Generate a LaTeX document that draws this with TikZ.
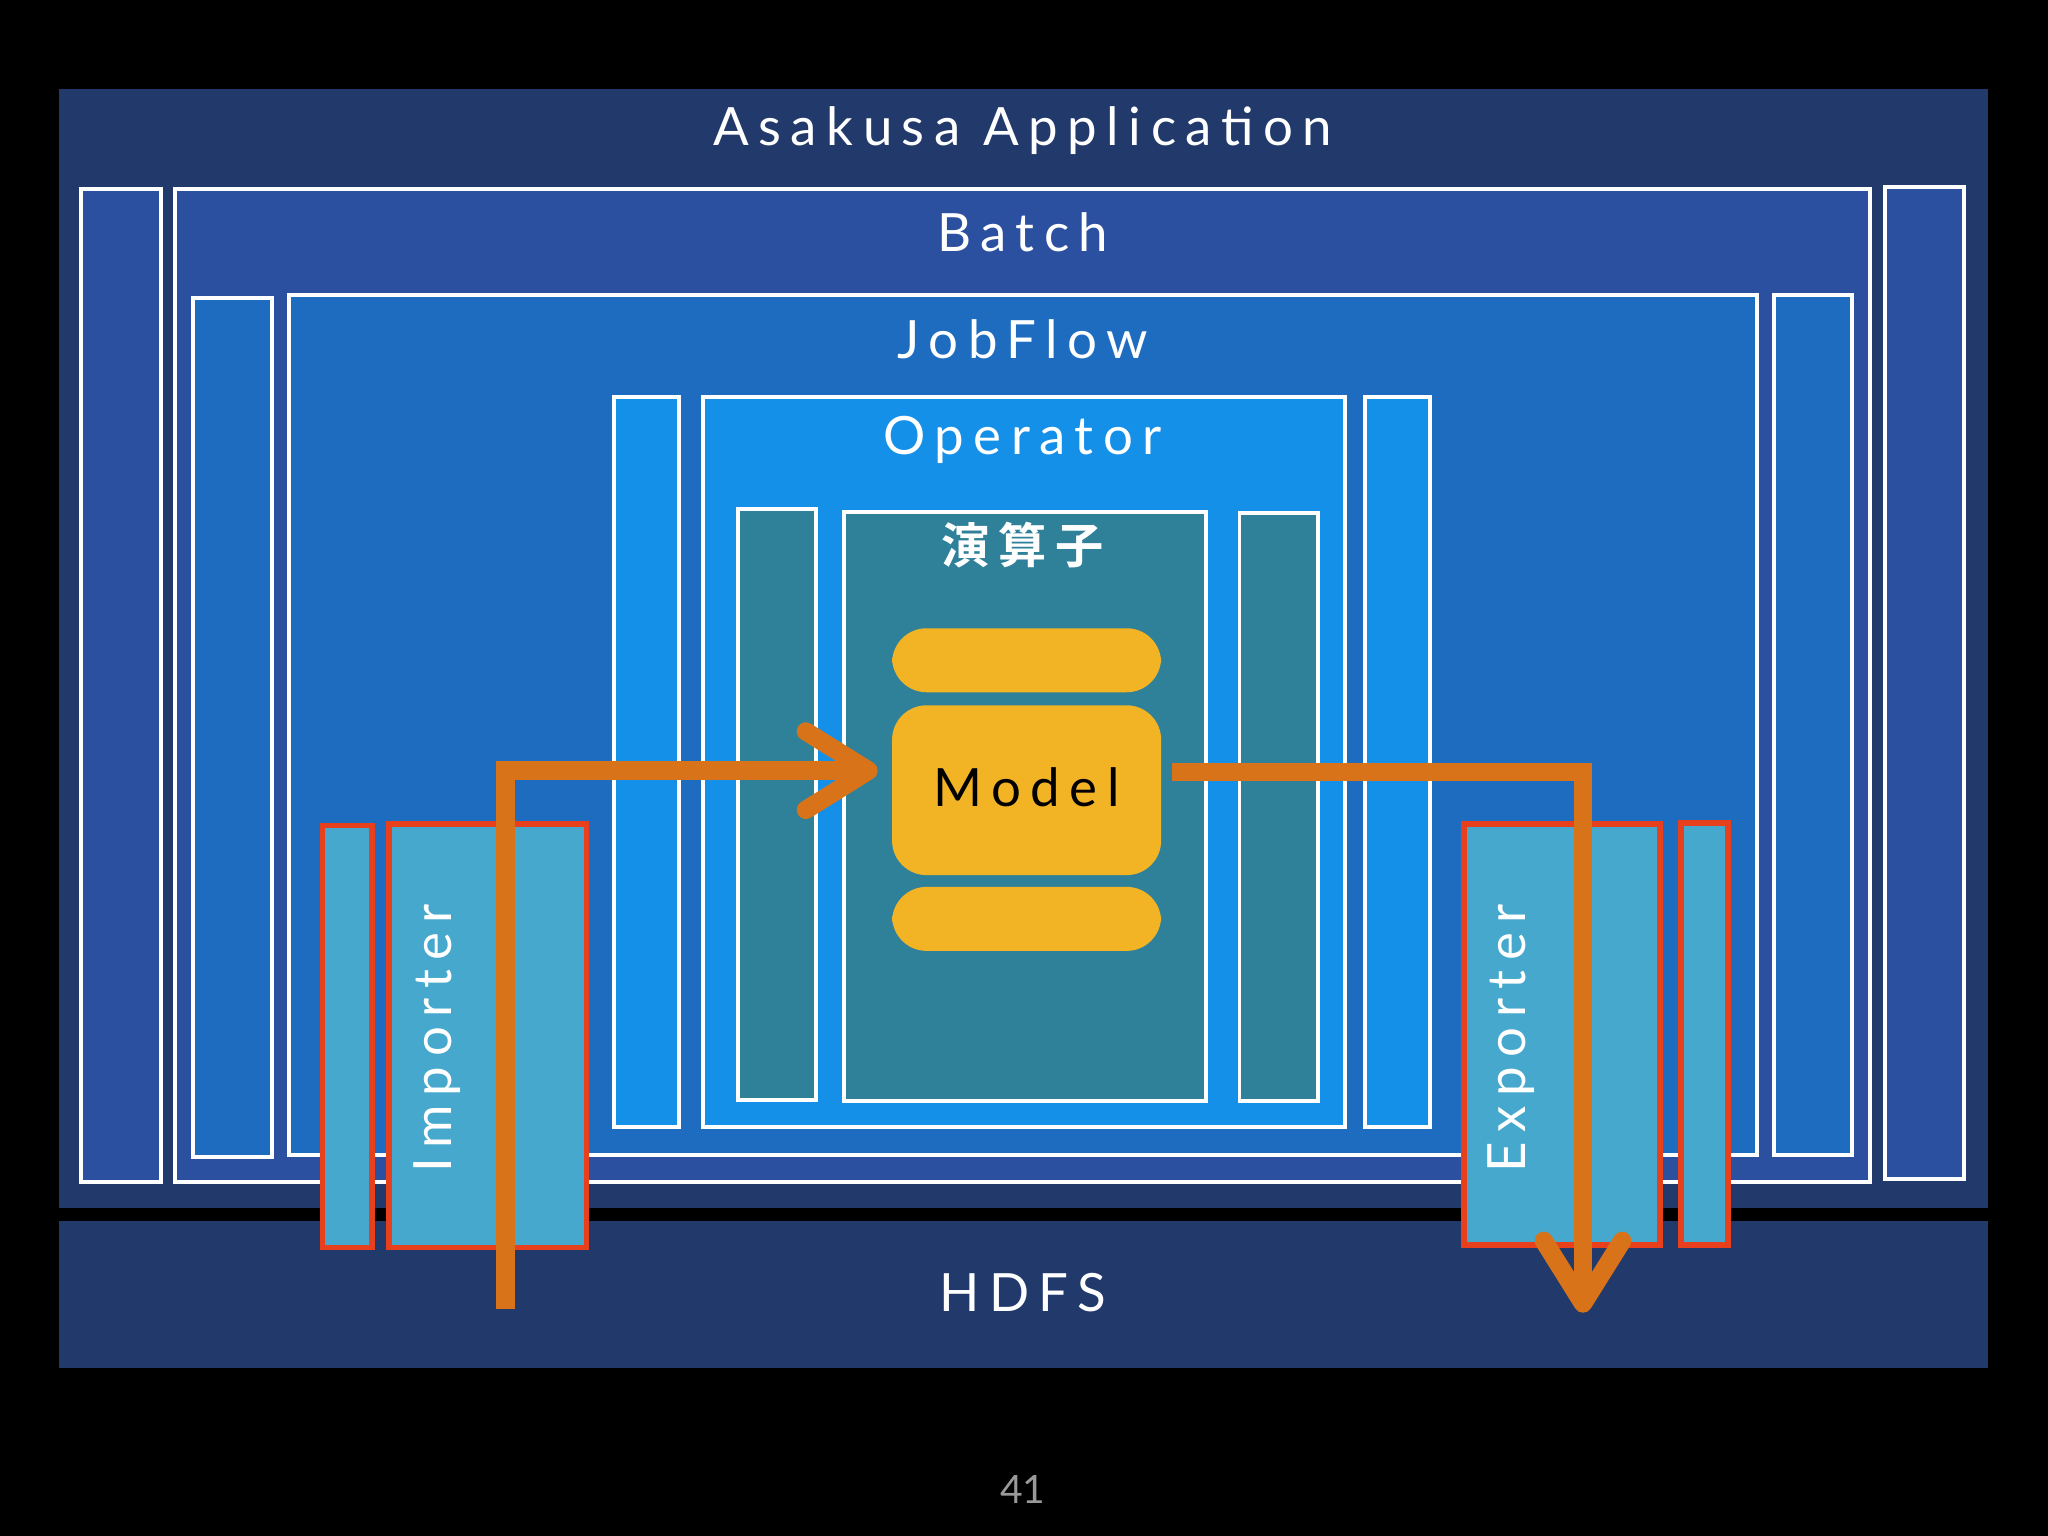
\documentclass[tikz,border=0pt]{standalone}
\usepackage{fontspec}
\setmainfont{Lato}
\newfontfamily\cjk{Noto Sans CJK JP}[BoldFont=* Bold]
\newfontfamily\spaced{Lato}[LetterSpace=18]
\begin{document}
\begin{tikzpicture}[x=0.1mm,y=-0.1mm,
  wb/.style={draw=white,line width=0.85pt},
  yb/.style={fill=yellowM,rounded corners=7.5pt},
  rb/.style={draw=redB,line width=1.2pt,fill=impC},
  ttl/.style={text=white,font=\spaced\fontsize{11.5}{12}\selectfont},
  arr/.style={draw=orangeA,line width=4pt},
]
\definecolor{navy}{HTML}{213A6B}
\definecolor{batchC}{HTML}{2C50A0}
\definecolor{jobC}{HTML}{1E6CC0}
\definecolor{opC}{HTML}{1590E8}
\definecolor{tealC}{HTML}{2F8099}
\definecolor{yellowM}{HTML}{F2B325}
\definecolor{impC}{HTML}{45A8CC}
\definecolor{redB}{HTML}{E8401C}
\definecolor{orangeA}{HTML}{D9731A}
\fill[black] (0,0) rectangle (1568,1176);
\useasboundingbox (0,0) rectangle (1568,1176);
% app
\fill[navy] (45,68) rectangle (1522,925);
\node[ttl] (app) at (783,100) {Asakusa Application};
\fill[navy] (45,935) rectangle (1522,1047);
\node[ttl] (hdfs) at (783,990) {HDFS};
% batch
\draw[wb,fill=batchC] (62,145) rectangle (123,905);
\draw[wb,fill=batchC] (1443,143) rectangle (1504,903);
\draw[wb,fill=batchC] (134,145) rectangle (1432,905);
\node[ttl] (batch) at (783,178) {Batch};
% jobflow
\draw[wb,fill=jobC] (148,228) rectangle (208,886);
\draw[wb,fill=jobC] (1358,226) rectangle (1418,884);
\draw[wb,fill=jobC] (221,226) rectangle (1345,884);
\node[ttl] (job) at (783,260) {JobFlow};
% operator
\draw[wb,fill=opC] (470,304) rectangle (520,863);
\draw[wb,fill=opC] (1045,304) rectangle (1095,863);
\draw[wb,fill=opC] (538,304) rectangle (1030,863);
\node[ttl] (op) at (783,337) {Operator};
% enzanshi
\draw[wb,fill=tealC] (565,390) rectangle (625,842);
\draw[wb,fill=tealC] (949,393) rectangle (1009,843);
\draw[wb,fill=tealC] (646,392) rectangle (923,843);
\node[text=white,font=\cjk\bfseries\fontsize{10.5}{12}\selectfont] (enz) at (783,417) {演\hspace{2pt}算\hspace{2pt}子};
% model
\fill[yb] (683,481) rectangle (889,530);
\fill[yb] (683,540) rectangle (889,670);
\fill[yb] (683,679) rectangle (889,728);
\node[font=\spaced\fontsize{11.5}{12}\selectfont] (model) at (786,603) {Model};
% importer/exporter
\draw[rb] (247,632) rectangle (285,955);
\draw[rb] (298,631) rectangle (449,955);
\node[ttl,rotate=90] (imp) at (335,795) {Importer};
\draw[rb] (1121,631) rectangle (1271,953);
\draw[rb] (1287,630) rectangle (1323,953);
\node[ttl,rotate=90] (exp) at (1157,795) {Exporter};
% arrows
\coordinate (a0) at (387,1002);
\coordinate (a1) at (387,590);
\coordinate (a2) at (665,590);
\draw[arr] (a0) -- (a1) -- (a2);
\draw[arr,line cap=round,line join=round] (617,560) -- (a2) -- (617,620);
\coordinate (b0) at (897,591);
\coordinate (b1) at (1212,591);
\coordinate (b2) at (1212,998);
\draw[arr] (b0) -- (b1) -- (b2);
\draw[arr,line cap=round,line join=round] (1182,950) -- (b2) -- (1242,950);
\node[text=gray!80,font=\fontsize{8.5}{10}\selectfont] (pg) at (783,1140) {41};
\end{tikzpicture}
\end{document}
